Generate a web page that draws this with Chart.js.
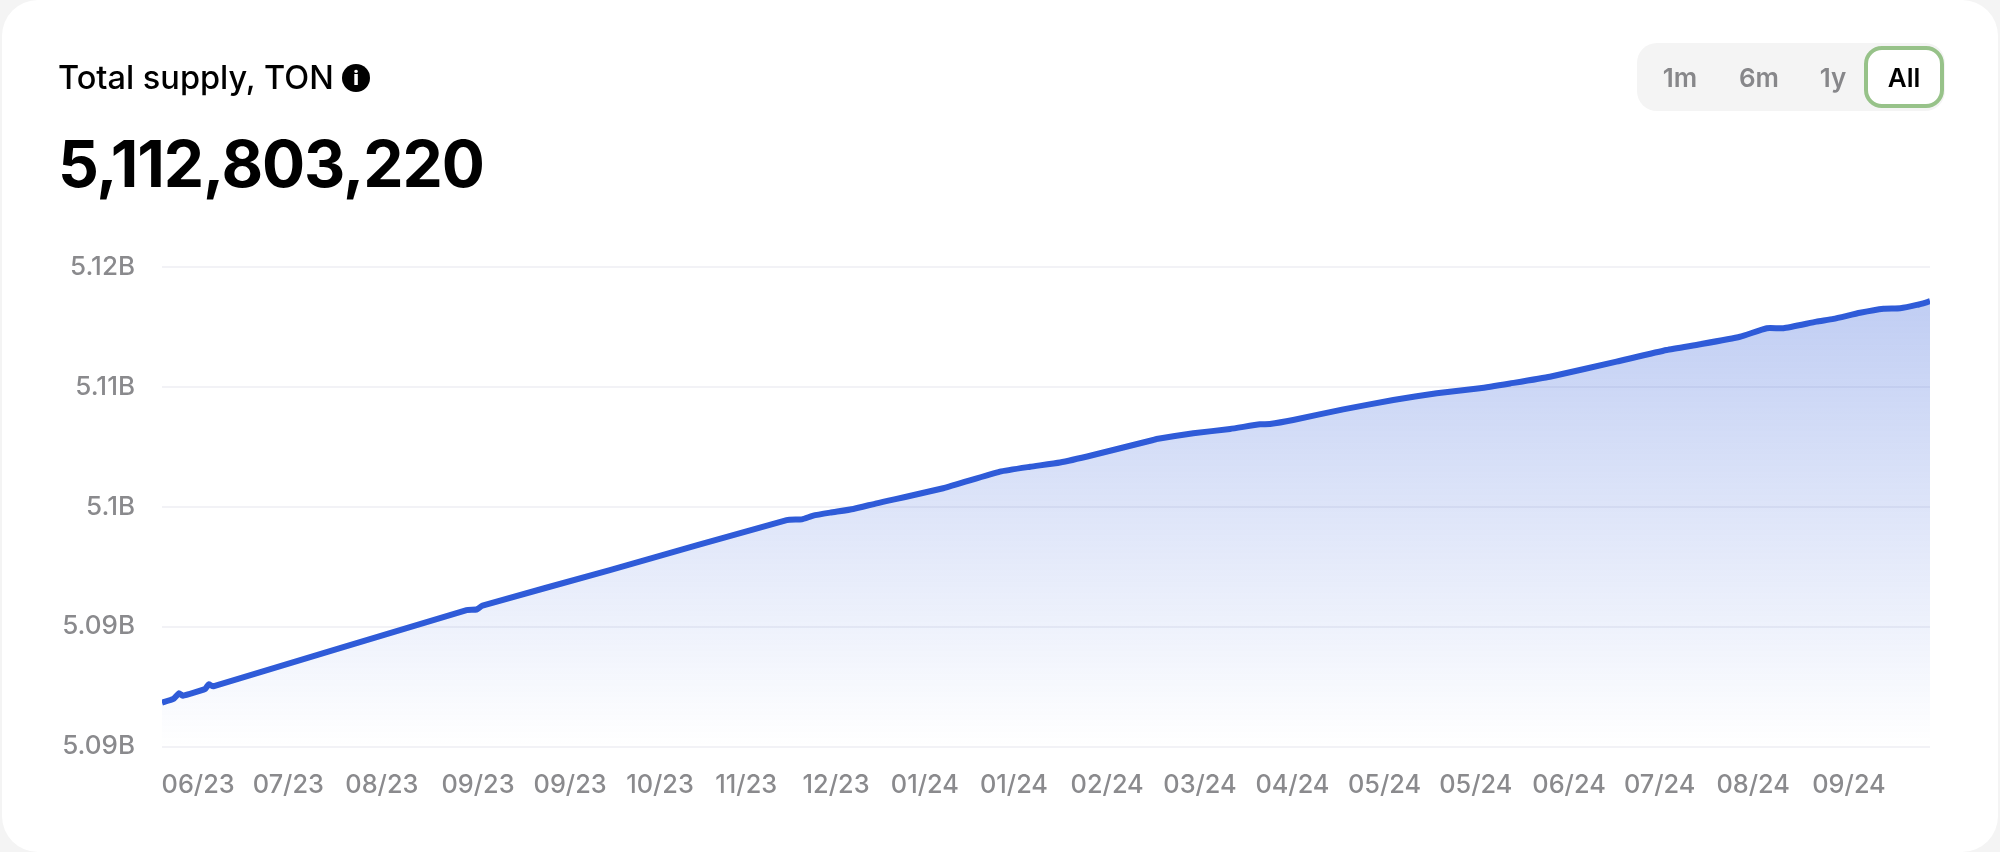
<!DOCTYPE html>
<html>
<head>
<meta charset="utf-8">
<title>Total supply, TON</title>
<script src="https://cdn.jsdelivr.net/npm/chart.js@4"></script>
<style>
    html, body { margin: 0; padding: 0; width: 2000px; height: 852px; background: #f4f4f4; overflow: hidden; }
    body { font-family: Inter, sans-serif; position: relative; }
    .card { position: absolute; left: 2px; top: 0; width: 1996px; height: 852px; background: #fff; border-radius: 36px; }
    #grafico { position: absolute; left: 0; top: 0; }
    .titulo { position: absolute; left: 58px; top: 58px; font-size: 32.5px; line-height: 40px; font-weight: 500; color: #000; white-space: nowrap; }
    .info { position: absolute; left: 342px; top: 64px; width: 28px; height: 28px; border-radius: 50%; background: #000; color: #fff;
            font-size: 20px; line-height: 28px; font-weight: 800; text-align: center; }
    .valor { position: absolute; left: 58px; top: 125px; font-size: 64px; line-height: 78px; font-weight: 700; letter-spacing: -1.1px; color: #000; white-space: nowrap; }
    .periodos { position: absolute; left: 1637px; top: 43px; width: 308px; height: 68px; border-radius: 20px; background: #f4f4f4; }
    .periodos span { position: absolute; top: 0; line-height: 70px; font-size: 26px; font-weight: 600; color: #87878a; transform: translateX(-50%); }
    .ativo { position: absolute; left: 227px; top: 3px; width: 72px; height: 54px; border: 4px solid #97c289; border-radius: 18px; background: #fff; }
</style>
</head>
<body>
<div class="card"></div>
<canvas id="grafico" width="2000" height="852"></canvas>
<div class="titulo">Total supply, TON</div>
<div class="info">i</div>
<div class="valor">5,112,803,220</div>
<div class="periodos">
    <div class="ativo"></div>
    <span style="left:43px">1m</span>
    <span style="left:122px">6m</span>
    <span style="left:196px">1y</span>
    <span style="left:267px;color:#000">All</span>
</div>
<script>
const dias = [0, 3.1, 4.6, 5.6, 11.7, 12.7, 13.9, 82.7, 85.4, 87, 121.6, 169.6, 173.7, 176.8, 181.4, 187.7, 194,
    212.1, 227.5, 235.7, 243.8, 252.8, 269.1, 270, 280, 290, 298.1, 300.8, 307.1, 320.7, 334.3, 346.1, 357.8,
    366, 376.8, 394.9, 408.5, 417.6, 428.4, 435.7, 440.2, 449.2, 453.8, 461, 467.4, 471.9, 476.4, 480];

const valores = [5.08820, 5.08847, 5.08888, 5.08871, 5.08920, 5.08954, 5.08939, 5.09496, 5.09500, 5.09528, 5.09788,
    5.10153, 5.10158, 5.10185, 5.10207, 5.10234, 5.10275, 5.10385, 5.10506, 5.10542, 5.10573, 5.10628, 5.10737,
    5.10745, 5.10786, 5.10818, 5.10852, 5.10854, 5.10883, 5.10961, 5.11029, 5.11078, 5.11115, 5.11150, 5.11199,
    5.11309, 5.11394, 5.11436, 5.11491, 5.11553, 5.11553, 5.11601, 5.11621, 5.11666, 5.11696, 5.11699, 5.11723, 5.11750];

const xTickDias = [9.8, 34.3, 59.7, 85.8, 110.8, 135.2, 158.6, 183, 207.1, 231.3, 256.6, 281.8, 306.9, 331.9,
    356.7, 382, 406.6, 432, 458];
const xTickLabels = ["06/23", "07/23", "08/23", "09/23", "09/23", "10/23", "11/23", "12/23", "01/24", "01/24",
    "02/24", "03/24", "04/24", "05/24", "05/24", "06/24", "07/24", "08/24", "09/24"];

const yTickValores = [5.085, 5.09375, 5.1025, 5.11125, 5.12];
const yTickLabels = ["5.09B", "5.09B", "5.1B", "5.11B", "5.12B"];

const pontos = dias.map(function (d, i) { return { x: d, y: valores[i] }; });

function gradiente(context) {
    const chart = context.chart;
    if (!chart.chartArea) return "rgba(47, 91, 216, 0.3)";
    const topo = chart.scales.y.getPixelForValue(Math.max.apply(null, valores));
    const g = chart.ctx.createLinearGradient(0, topo, 0, chart.chartArea.bottom);
    g.addColorStop(0, "rgba(47, 91, 216, 0.3)");
    g.addColorStop(1, "rgba(47, 91, 216, 0)");
    return g;
}

new Chart(document.getElementById("grafico"), {
    type: "line",
    data: {
        datasets: [{
            label: "Total supply, TON",
            data: pontos,
            borderColor: "#2f5bd8",
            borderWidth: 6,
            pointRadius: 0,
            tension: 0.15,
            borderJoinStyle: "round",
            fill: "start",
            backgroundColor: gradiente
        }]
    },
    options: {
        responsive: false,
        animation: false,
        layout: { padding: { left: 0, right: 70, top: 267, bottom: 0 } },
        plugins: { legend: { display: false }, tooltip: { enabled: false } },
        scales: {
            x: {
                type: "linear",
                min: 0,
                max: 480,
                grid: { display: false },
                border: { display: false },
                afterBuildTicks: function (axis) {
                    axis.ticks = xTickDias.map(function (v) { return { value: v }; });
                },
                afterFit: function (axis) { axis.height = 105.5; },
                ticks: {
                    autoSkip: false,
                    maxRotation: 0,
                    padding: 16,
                    color: "#8a8a8d",
                    font: { family: "Inter", size: 25.3, weight: "500" },
                    callback: function (value, index) { return xTickLabels[index]; }
                }
            },
            y: {
                min: 5.085,
                max: 5.12,
                grid: { color: "#f2f2f6", lineWidth: 2, tickLength: 0 },
                border: { display: false },
                afterBuildTicks: function (axis) {
                    axis.ticks = yTickValores.map(function (v) { return { value: v }; });
                },
                afterFit: function (axis) { axis.width = 162; },
                ticks: {
                    padding: 27,
                    color: "#8a8a8d",
                    font: { family: "Inter", size: 26, weight: "500" },
                    callback: function (value, index) { return yTickLabels[index]; }
                }
            }
        }
    }
});
</script>
</body>
</html>
